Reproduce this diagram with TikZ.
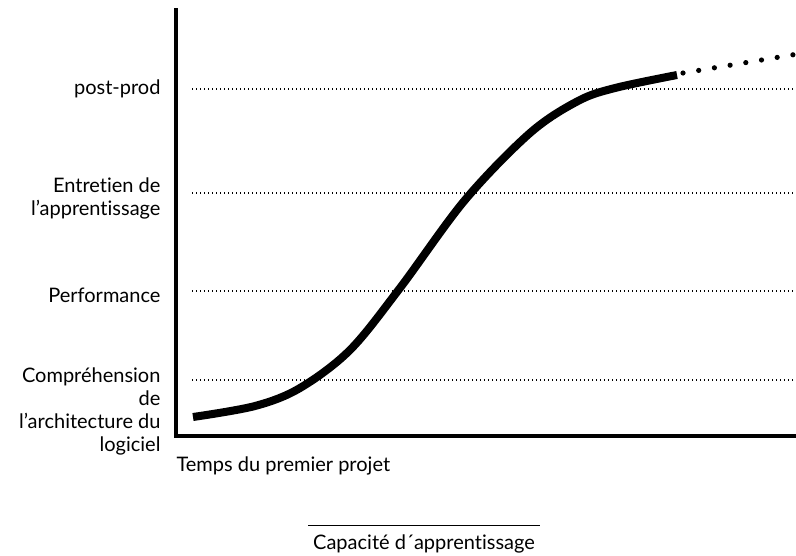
\documentclass[tikz,border=0pt]{standalone}
\usepackage{fontspec}
\setmainfont[Ligatures=CommonOff]{Lato}
\begin{document}
\begin{tikzpicture}[x=1pt,y=-1pt,font=\fontsize{20}{23}\selectfont]
      \useasboundingbox (0,0) rectangle (796,555);
      \coordinate (O) at (176,436);
      \coordinate (T) at (176,8);
      \coordinate (E) at (796,436);
      \draw[line width=4pt] (T) -- (O) -- (E);
      \foreach \y in {89,193,291,380}{
        \coordinate (L\y) at (192,\y);
        \draw[line width=1.3pt, dash pattern=on 1.3pt off 2.7pt] (L\y) -- (796,\y);
      }
      \node[left, align=right] (pp) at (164,89) {post-prod};
      \node[left, align=right] (ea) at (164,198) {Entretien de\\l'apprentissage};
      \node[left, align=right] (pf) at (164,295) {Performance};
      \node[left, align=right] (ca) at (164,411) {Compréhension\\de\\l'architecture du\\logiciel};
      \node[right] (tp) at (173,466) {Temps du premier projet};
      \draw[line width=8pt] plot[smooth, tension=0.55] coordinates {(193,417) (255,406) (300,388) (350,350) (400,288) (465,200) (530,133) (578,101) (615,88) (677,75)};
      \foreach \i in {0,...,7}{
        \fill ({683+15.7*\i},{73-2.6*\i}) circle (2.6);
      }
      \coordinate (C1) at (308,525);
      \coordinate (C2) at (540,525);
      \draw[thick] (C1) -- (C2);
      \node (cap) at (424,544) {Capacité d´apprentissage};
\end{tikzpicture}
\end{document}
